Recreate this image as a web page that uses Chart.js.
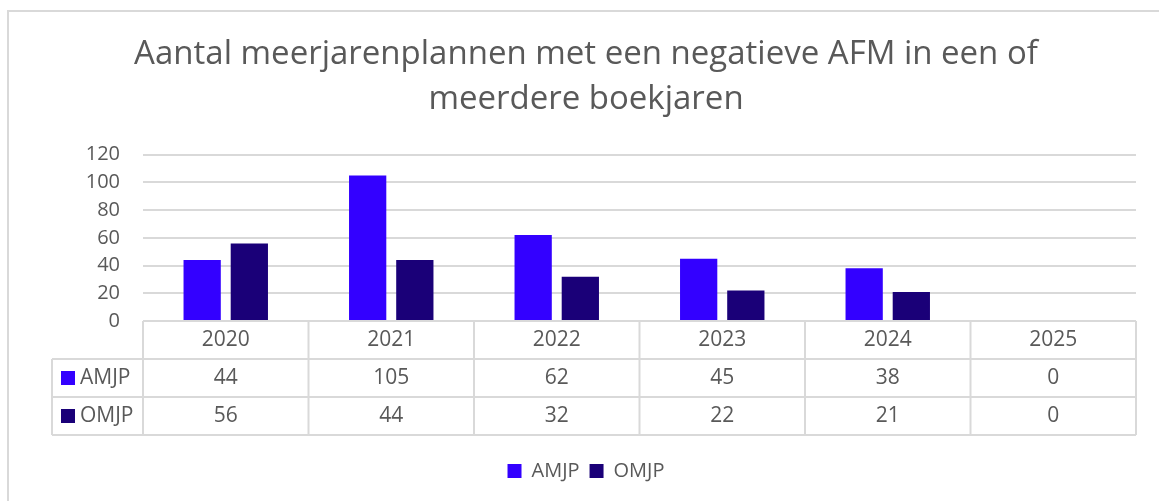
<!DOCTYPE html>
<html>
<head>
<meta charset="utf-8">
<script src="https://cdn.jsdelivr.net/npm/chart.js@4"></script>
<style>
  html, body { margin: 0; padding: 0; background: #ffffff; }
  #wrap { width: 1159px; height: 501px; }
</style>
</head>
<body>
<div id="wrap"><canvas id="chart" width="1159" height="501"></canvas></div>
<script>
// data
var years = ["2020", "2021", "2022", "2023", "2024", "2025"];
var amjp = [44, 105, 62, 45, 38, 0];
var omjp = [56, 44, 32, 22, 21, 0];
var yTicks = [0, 20, 40, 60, 80, 100, 120];

var seriesNames = ["AMJP", "OMJP"];
var seriesColors = ["#3300ff", "#1a0078"];
var textColor = "#595959";
var lineColor = "#d9d9d9";
var fontFamily = "'Open Sans', sans-serif";

// draws the data table under the plot and the outer border
var tablePlugin = {
  id: "dataTable",
  afterDraw: function (chart) {
    var ctx = chart.ctx;
    var area = chart.chartArea;
    var n = years.length;
    var colW = (area.right - area.left) / n;
    var rowH = 38;
    var top = area.bottom;
    var keyLeft = 52;

    ctx.save();
    // outer border
    ctx.strokeStyle = lineColor;
    ctx.lineWidth = 2;
    ctx.strokeRect(8, 11, 1170, 520);

    // table lines
    ctx.beginPath();
    for (var i = 0; i <= n; i++) {
      var x = area.left + colW * i;
      ctx.moveTo(x, top);
      ctx.lineTo(x, top + rowH * 3);
    }
    ctx.moveTo(keyLeft, top + rowH);
    ctx.lineTo(keyLeft, top + rowH * 3);
    for (var r = 1; r <= 3; r++) {
      ctx.moveTo(keyLeft, top + rowH * r);
      ctx.lineTo(area.right, top + rowH * r);
    }
    ctx.stroke();

    // texts
    ctx.fillStyle = textColor;
    ctx.font = "21px " + fontFamily;
    ctx.textAlign = "center";
    ctx.textBaseline = "middle";
    var rows = [amjp, omjp];
    for (var i = 0; i < n; i++) {
      var cx = area.left + colW * (i + 0.5);
      ctx.fillText(years[i], cx, top + rowH * 0.5);
      for (var r = 0; r < rows.length; r++) {
        ctx.fillText(String(rows[r][i]), cx, top + rowH * (r + 1.5));
      }
    }
    // row keys
    ctx.textAlign = "left";
    for (var r = 0; r < rows.length; r++) {
      var cy = top + rowH * (r + 1.5);
      ctx.fillStyle = seriesColors[r];
      ctx.fillRect(61, cy - 7, 14, 14);
      ctx.fillStyle = textColor;
      ctx.fillText(seriesNames[r], 80, cy);
    }
    ctx.restore();
  }
};

var ctx = document.getElementById("chart").getContext("2d");
var chart = new Chart(ctx, {
  type: "bar",
  data: {
    labels: years,
    datasets: [
      {
        label: seriesNames[0],
        data: amjp,
        backgroundColor: seriesColors[0],
        categoryPercentage: 0.57,
        barPercentage: 0.79
      },
      {
        label: seriesNames[1],
        data: omjp,
        backgroundColor: seriesColors[1],
        categoryPercentage: 0.57,
        barPercentage: 0.79
      }
    ]
  },
  options: {
    responsive: false,
    animation: false,
    layout: {
      padding: { left: 36, right: 23, top: 10, bottom: 10 }
    },
    plugins: {
      title: {
        display: true,
        text: ["Aantal meerjarenplannen met een negatieve AFM in een of", "meerdere boekjaren"],
        color: textColor,
        font: { family: fontFamily, size: 33, weight: "normal", lineHeight: 1.36 },
        padding: { top: 22, bottom: 33 }
      },
      legend: {
        display: true,
        position: "bottom",
        labels: {
          color: textColor,
          font: { family: fontFamily, size: 20 },
          boxWidth: 14,
          boxHeight: 14,
          padding: 10
        }
      },
      tooltip: { enabled: false }
    },
    scales: {
      x: {
        grid: { display: false, drawTicks: false },
        border: { display: false },
        ticks: { display: false },
        afterFit: function (scale) { scale.height = 130; }
      },
      y: {
        min: 0,
        max: 120,
        afterBuildTicks: function (scale) {
          scale.ticks = yTicks.map(function (v) { return { value: v }; });
        },
        grid: { color: lineColor, lineWidth: 2, drawTicks: false },
        border: { display: false },
        ticks: {
          color: textColor,
          font: { family: fontFamily, size: 20 },
          padding: 23
        },
        afterFit: function (scale) { scale.width = 107; }
      }
    }
  },
  plugins: [tablePlugin]
});
</script>
</body>
</html>
